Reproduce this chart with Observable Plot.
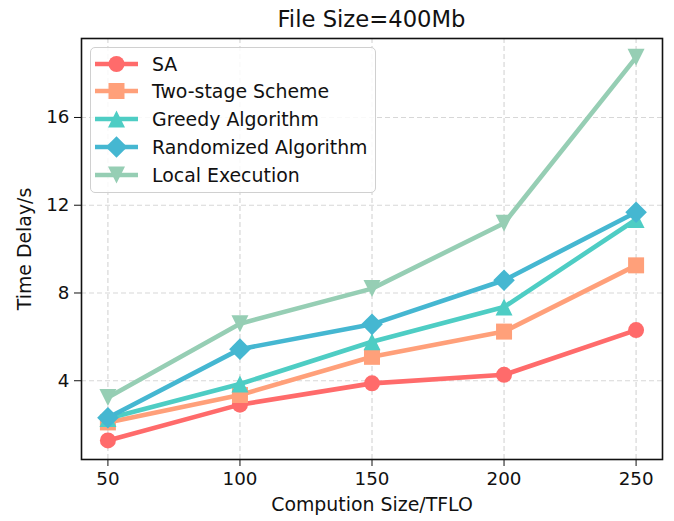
<!DOCTYPE html>
<html>
<head>
<meta charset="utf-8">
<script src="https://cdn.jsdelivr.net/npm/d3@7"></script>
<script src="https://cdn.jsdelivr.net/npm/@observablehq/plot@0.6"></script>
<style>
  html, body { margin: 0; padding: 0; background: #fff; }
  #wrap { position: relative; width: 674px; height: 521px; font-family: "DejaVu Sans", sans-serif; }
  #title { height: 30px; line-height: 39px; text-align: center; font-size: 22.7px; color: #111; padding-left: 69px; box-sizing: border-box; width: 674px; }
  #legend { position: absolute; left: 90px; top: 47px; width: 286px; height: 146px; box-sizing: border-box;
            border: 1.3px solid #d0d0d0; border-radius: 5px; background: rgba(255,255,255,0.85); }
  .row { position: absolute; left: 0; height: 28px; display: flex; align-items: center; }
  .row svg { position: absolute; left: 4px; top: 0; }
  .row span { position: absolute; left: 61px; font-size: 18.9px; color: #111; white-space: nowrap; line-height: 28px; top: 0; }
</style>
</head>
<body>
<div id="wrap">
  <div id="title">File Size=400Mb</div>
  <div id="chart"></div>
  <div id="legend"></div>
</div>
<script>
const sizes = [50, 100, 150, 200, 250];
const seriesNames = ["SA", "Two-stage Scheme", "Greedy Algorithm", "Randomized Algorithm", "Local Execution"];
const saValues = [1.28, 2.91, 3.88, 4.27, 6.31];
const twoStageValues = [2.1, 3.35, 5.09, 6.24, 9.26];
const greedyValues = [2.28, 3.85, 5.78, 7.36, 11.35];
const randomizedValues = [2.31, 5.44, 6.57, 8.58, 11.68];
const localValues = [3.24, 6.6, 8.2, 11.18, 18.74];
const colors = ["#FF6B6B", "#FFA07A", "#4ECDC4", "#45B7D1", "#96CEB4"];
const xTicks = [50, 100, 150, 200, 250];
const yTicks = [4, 8, 12, 16];

// custom matplotlib-like marker symbols (h = half extent)
const mk = (fn) => ({ draw(ctx, size) { fn(ctx, Math.sqrt(size / Math.PI)); } });
const symCircle = mk((c, h) => { c.moveTo(h, 0); c.arc(0, 0, h, 0, 2 * Math.PI); c.closePath(); });
const symSquare = mk((c, h) => { c.rect(-h, -h, 2 * h, 2 * h); });
const symTriUp = mk((c, h) => { c.moveTo(0, -h); c.lineTo(h, h); c.lineTo(-h, h); c.closePath(); });
const symDiamond = mk((c, h) => { c.moveTo(0, -h); c.lineTo(h, 0); c.lineTo(0, h); c.lineTo(-h, 0); c.closePath(); });
const symTriDown = mk((c, h) => { c.moveTo(0, h); c.lineTo(h, -h); c.lineTo(-h, -h); c.closePath(); });
const symbols = [symCircle, symSquare, symTriUp, symDiamond, symTriDown];
const radii = [8, 8, 8.5, 10.8, 8.5];

const allValues = [saValues, twoStageValues, greedyValues, randomizedValues, localValues];
const series = seriesNames.map((name, i) => ({
  name, color: colors[i], symbol: symbols[i], r: radii[i],
  data: sizes.map((x, j) => ({ x, y: allValues[i][j] }))
}));

const marks = [
  Plot.ruleX(xTicks, { stroke: "#b0b0b0", strokeOpacity: 0.5, strokeWidth: 1.2, strokeDasharray: "5,3" }),
  Plot.ruleY(yTicks, { stroke: "#b0b0b0", strokeOpacity: 0.5, strokeWidth: 1.2, strokeDasharray: "5,3" }),
];
for (const s of series) {
  marks.push(Plot.line(s.data, { x: "x", y: "y", stroke: s.color, strokeWidth: 4.6, strokeLinejoin: "round", strokeLinecap: "butt" }));
  marks.push(Plot.dot(s.data, { x: "x", y: "y", fill: s.color, stroke: "none", r: s.r, symbol: s.symbol }));
}
marks.push(Plot.axisX({ ticks: xTicks, tickSize: 7, tickPadding: 5, fontSize: 18.3, label: null, tickFormat: d => String(d) }));
marks.push(Plot.axisX({ ticks: [], tickSize: 0, label: "Compution Size/TFLO", labelAnchor: "center", labelArrow: "none", labelOffset: 51, fontSize: 18.9 }));
marks.push(Plot.axisY({ ticks: yTicks, tickSize: 7, tickPadding: 5, fontSize: 18.3, label: null, tickFormat: d => String(d) }));
marks.push(Plot.axisY({ ticks: [], tickSize: 0, label: "Time Delay/s", labelAnchor: "center", labelArrow: "none", labelOffset: 64, fontSize: 18.9 }));
marks.push(Plot.frame({ stroke: "#111", strokeWidth: 1.6 }));

const chart = Plot.plot({
  width: 674,
  height: 491,
  marginTop: 8,
  marginBottom: 62,
  marginLeft: 81,
  marginRight: 12,
  x: { domain: [40, 260] },
  y: { domain: [0.41, 19.6] },
  style: { fontFamily: "DejaVu Sans, sans-serif", color: "#111", fontSize: "18.3px", background: "white" },
  marks
});
document.getElementById("chart").appendChild(chart);

// legend
const legend = document.getElementById("legend");
const pathFor = (i, h) => {
  const p = d3.path();
  symbols[i].draw(p, Math.PI * h * h);
  return p.toString();
};
series.forEach((s, i) => {
  const row = document.createElement("div");
  row.className = "row";
  row.style.top = (1.5 + i * 27.9) + "px";
  row.style.width = "280px";
  const svg = d3.create("svg").attr("width", 50).attr("height", 28);
  svg.append("line").attr("x1", 0).attr("x2", 43).attr("y1", 14).attr("y2", 14)
     .attr("stroke", s.color).attr("stroke-width", 4.6);
  svg.append("path").attr("d", pathFor(i, s.r)).attr("transform", "translate(21.5,14)").attr("fill", s.color);
  row.appendChild(svg.node());
  const span = document.createElement("span");
  span.textContent = s.name;
  row.appendChild(span);
  legend.appendChild(row);
});
</script>
</body>
</html>
